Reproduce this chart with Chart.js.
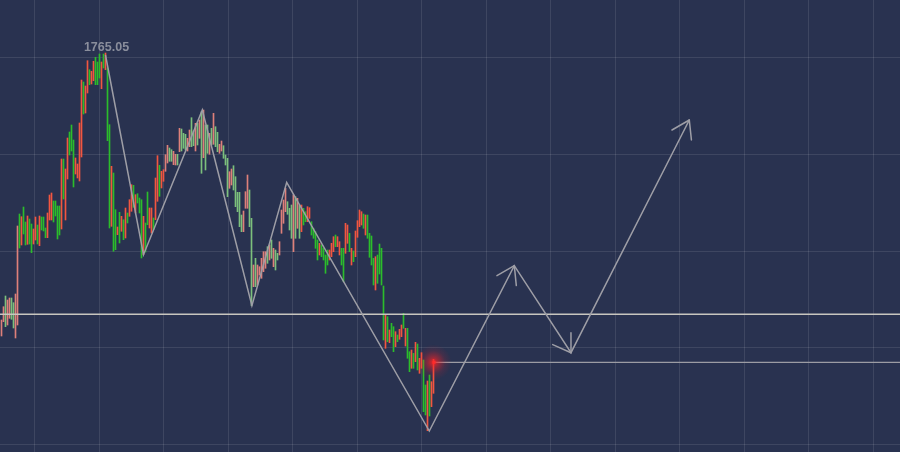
<!DOCTYPE html>
<html>
<head>
<meta charset="utf-8">
<title>XAU zigzag</title>
<script src="https://cdn.jsdelivr.net/npm/chart.js@4.4.1/dist/chart.umd.min.js"></script>
<style>
  html, body { margin: 0; padding: 0; background: #293250; }
  #wrap { width: 900px; height: 452px; }
</style>
</head>
<body>
<div id="wrap"><canvas id="chart" width="900" height="452"></canvas></div>
<script>
// ============ Data ============
const highs = [
  1738.35, 1739.68, 1740.75, 1740.35, 1740.55, 1740.55, 1740.08, 1740.95, 1747.75, 1748.95,
  1748.68, 1749.65, 1748.15, 1748.75, 1748.45, 1747.95, 1747.45, 1748.65, 1747.85, 1748.75,
  1748.65, 1748.65, 1747.55, 1749.05, 1750.85, 1751.05, 1750.25, 1750.25, 1749.75, 1749.75,
  1754.45, 1754.45, 1753.45, 1756.55, 1757.15, 1757.85, 1756.35, 1754.55, 1753.95, 1758.05,
  1762.35, 1762.15, 1761.75, 1764.28, 1763.38, 1763.22, 1764.22, 1764.62, 1764.15, 1764.95,
  1764.15, 1764.95, 1765.05, 1763.55, 1757.88, 1753.72, 1753.05, 1749.38, 1747.65, 1749.12,
  1748.72, 1748.38, 1749.55, 1749.05, 1750.38, 1751.88, 1751.82, 1750.88, 1750.98, 1750.55,
  1750.38, 1748.72, 1748.05, 1751.15, 1749.55, 1749.55, 1748.55, 1752.55, 1754.78, 1753.82,
  1753.22, 1753.38, 1754.88, 1755.82, 1755.55, 1755.38, 1755.22, 1754.92, 1754.92, 1757.52,
  1757.45, 1757.02, 1756.92, 1756.52, 1757.35, 1758.58, 1757.25, 1758.02, 1758.02, 1758.35,
  1759.18, 1759.35, 1757.85, 1757.85, 1757.02, 1757.52, 1759.02, 1757.68, 1757.12, 1755.92,
  1756.25, 1755.78, 1754.85, 1754.52, 1753.18, 1753.45, 1753.78, 1752.68, 1751.12, 1751.12,
  1748.85, 1749.25, 1751.18, 1752.85, 1751.35, 1748.52, 1743.85, 1744.52, 1743.85, 1743.68,
  1744.52, 1745.18, 1745.18, 1745.68, 1745.85, 1746.35, 1745.52, 1745.35, 1745.02, 1746.18,
  1749.35, 1750.35, 1751.52, 1750.18, 1749.52, 1749.85, 1750.85, 1750.68, 1750.52, 1749.85,
  1749.85, 1749.52, 1749.18, 1749.68, 1749.58, 1748.18, 1747.52, 1747.18, 1746.35, 1746.02,
  1745.85, 1745.52, 1744.85, 1745.35, 1745.35, 1746.02, 1746.68, 1746.85, 1746.68, 1746.18,
  1745.52, 1745.52, 1748.02, 1747.85, 1747.02, 1745.52, 1745.25, 1747.25, 1748.28, 1749.35,
  1749.18, 1748.95, 1748.85, 1748.85, 1747.02, 1746.75, 1744.52, 1744.68, 1744.85, 1745.95,
  1745.52, 1741.75, 1738.85, 1738.68, 1737.35, 1738.02, 1737.68, 1737.18, 1736.85, 1737.42,
  1737.85, 1739.02, 1737.52, 1737.52, 1735.18, 1735.35, 1735.02, 1736.12, 1735.95, 1734.52,
  1735.08, 1734.35, 1731.85, 1732.25, 1732.85, 1732.18, 1734.42
];
const lows = [
  1736.75, 1738.18, 1737.68, 1737.85, 1738.52, 1738.42, 1737.55, 1736.55, 1737.85, 1745.55,
  1745.85, 1746.95, 1745.85, 1745.92, 1745.95, 1745.08, 1745.95, 1746.35, 1745.95, 1745.78,
  1747.35, 1747.25, 1746.58, 1746.58, 1748.35, 1748.35, 1748.15, 1748.75, 1746.45, 1746.85,
  1747.45, 1750.45, 1748.35, 1752.45, 1754.85, 1755.25, 1751.65, 1752.95, 1752.55, 1752.25,
  1754.65, 1758.95, 1759.05, 1761.05, 1761.88, 1761.95, 1762.28, 1761.88, 1761.88, 1762.55,
  1761.48, 1763.55, 1763.38, 1756.28, 1747.55, 1747.72, 1745.22, 1745.38, 1746.88, 1746.05,
  1747.22, 1746.38, 1746.55, 1748.05, 1748.72, 1749.22, 1749.62, 1749.05, 1750.05, 1749.05,
  1744.55, 1744.88, 1745.15, 1747.88, 1747.55, 1747.05, 1747.38, 1748.38, 1750.22, 1750.72,
  1751.55, 1752.22, 1753.22, 1754.05, 1754.22, 1754.22, 1753.88, 1753.85, 1753.85, 1755.18,
  1755.25, 1755.52, 1755.35, 1755.25, 1755.68, 1755.68, 1755.78, 1755.25, 1755.85, 1756.52,
  1753.02, 1754.58, 1753.35, 1755.02, 1754.92, 1755.85, 1755.92, 1755.68, 1755.18, 1755.02,
  1755.25, 1754.52, 1753.85, 1750.68, 1751.52, 1751.85, 1751.35, 1749.68, 1749.18, 1747.68,
  1747.18, 1747.18, 1749.52, 1749.52, 1747.68, 1739.78, 1741.68, 1741.68, 1741.85, 1742.85,
  1742.52, 1743.18, 1743.52, 1744.02, 1744.35, 1744.52, 1743.68, 1743.35, 1744.35, 1744.85,
  1747.02, 1748.02, 1749.18, 1748.92, 1747.35, 1746.52, 1745.18, 1746.52, 1747.52, 1746.52,
  1747.18, 1747.85, 1748.18, 1748.18, 1748.52, 1746.85, 1746.52, 1745.52, 1744.35, 1744.85,
  1744.68, 1744.35, 1743.02, 1743.85, 1744.35, 1744.68, 1745.18, 1745.68, 1745.68, 1744.85,
  1743.85, 1742.18, 1745.02, 1746.02, 1745.18, 1743.85, 1744.18, 1744.68, 1746.62, 1747.68,
  1747.85, 1747.52, 1746.85, 1746.52, 1744.62, 1743.85, 1741.85, 1741.35, 1742.02, 1742.95,
  1741.85, 1736.35, 1735.52, 1736.18, 1736.08, 1736.68, 1735.18, 1735.68, 1736.18, 1736.42,
  1736.68, 1737.52, 1735.75, 1734.52, 1733.18, 1733.52, 1733.52, 1734.18, 1733.35, 1733.02,
  1733.52, 1729.18, 1728.85, 1727.28, 1728.75, 1729.68, 1731.02
];
// g = up bar, r = down bar
const barDirs = (
  'rrgrrggrrg' + 'rggrggrrgr' + 'gggrrrgggg' + 'rgrrgggrrr' + 'rgrrgrrggg' +
  'rgrggrggrg' + 'rgrgrrgrgg' + 'grggrrgrrg' + 'rrrrggrrgr' + 'gggrrggrgr' +
  'grggrgrggr' + 'rgggrrgggg' + 'grrrggrgrr' + 'rrrgrgrggr' + 'rrrgggrgrg' +
  'rggrrggggr' + 'ggggrrrgrr' + 'ggrrgrgrrr' + 'rgrggggrgg' + 'ggrgrggrgr' +
  'rgrggrgrgr' + 'rggrgrr'
).split('');
// bar index spans drawn in the paler tone
const paleSpans = [[0, 8], [82, 149]];

// zigzag swing points (bar index, price), last three are projections
const zigzagIdx = [52, 71, 100.4, 125.2, 142.6, 213.9, 256.4, 284.75, 343.9];
const zigzagVal = [1764.85, 1744.88, 1759.35, 1739.78, 1752.12, 1727.25, 1743.78, 1735.08, 1758.35];
const arrowAt = [6, 7, 8];

const supportLevel = 1738.92;
const lastClose = 1734.12;

const xRange = [-0.75, 449.25];
const yRange = [1725.15, 1770.35];
const xGrid = [16.6, 48.85, 81.1, 113.35, 145.6, 177.85, 210.1, 242.35, 274.6, 306.85, 339.1, 371.35, 403.6, 435.85];
const yGrid = [1764.61, 1754.93, 1745.25, 1735.57, 1725.89];

// ============ Styles ============
const COLORS = {
  up: '#2bbd2b',
  down: '#f25640',
  upPale: '#7cc07c',
  downPale: '#de807a',
  zig: '#9e9ea6',
  support: '#c8c6bf',
  close: '#9c9ca4',
  grid: 'rgba(255,255,255,0.1)',
  label: '#8a8e9c',
};
const ARROW_LEN = 20;
const ARROW_SPREAD = 33 * Math.PI / 180;

// ============ Plugins ============
const arrowPlugin = {
  id: 'zigArrows',
  afterDatasetsDraw(chart) {
    const pts = chart.getDatasetMeta(0).data;
    const c = chart.ctx;
    c.save();
    c.strokeStyle = COLORS.zig;
    c.lineWidth = 1.5;
    c.lineCap = 'round';
    arrowAt.forEach(k => {
      const a = pts[k - 1], b = pts[k];
      const ang = Math.atan2(a.y - b.y, a.x - b.x);
      [-1, 1].forEach(s => {
        const t = ang + s * ARROW_SPREAD;
        c.beginPath();
        c.moveTo(b.x, b.y);
        c.lineTo(b.x + ARROW_LEN * Math.cos(t), b.y + ARROW_LEN * Math.sin(t));
        c.stroke();
      });
    });
    c.restore();
  }
};

const glowPlugin = {
  id: 'lastGlow',
  afterDatasetsDraw(chart) {
    const c = chart.ctx;
    const x = chart.scales.x.getPixelForValue(highs.length - 1);
    const y = chart.scales.y.getPixelForValue(lastClose);
    const r = 18;
    const g = c.createRadialGradient(x, y, 0, x, y, r);
    g.addColorStop(0, 'rgba(255,35,35,0.9)');
    g.addColorStop(0.3, 'rgba(240,35,40,0.5)');
    g.addColorStop(0.65, 'rgba(225,35,45,0.15)');
    g.addColorStop(1, 'rgba(225,35,45,0)');
    c.save();
    c.fillStyle = g;
    c.fillRect(x - r, y - r, r * 2, r * 2);
    c.fillStyle = '#ff2b2b';
    c.fillRect(x - 1, y - 1.5, 3, 3);
    c.restore();
  }
};

const peakLabelPlugin = {
  id: 'peakLabel',
  afterDatasetsDraw(chart) {
    const peak = Math.max(...highs);
    const idx = highs.indexOf(peak);
    const c = chart.ctx;
    c.save();
    c.font = 'bold 12.5px "Liberation Sans", Arial, sans-serif';
    c.fillStyle = COLORS.label;
    c.textAlign = 'center';
    c.textBaseline = 'alphabetic';
    c.fillText(peak.toFixed(2), chart.scales.x.getPixelForValue(idx) + 1, chart.scales.y.getPixelForValue(peak) - 2.5);
    c.restore();
  }
};

// ============ Chart ============
const isPale = i => paleSpans.some(([a, b]) => i >= a && i <= b);
const bars = highs.map((h, i) => ({ x: i, y: [lows[i], h] }));
const barColors = barDirs.map((d, i) => {
  if (isPale(i)) return d === 'g' ? COLORS.upPale : COLORS.downPale;
  return d === 'g' ? COLORS.up : COLORS.down;
});
const zigzag = zigzagIdx.map((x, i) => ({ x, y: zigzagVal[i] }));

const lineBase = { type: 'line', pointRadius: 0, tension: 0, fill: false };

new Chart(document.getElementById('chart').getContext('2d'), {
  type: 'bar',
  data: {
    datasets: [
      { ...lineBase, data: zigzag, borderColor: COLORS.zig, borderWidth: 1.5, order: 0 },
      { ...lineBase, data: [{ x: xRange[0], y: supportLevel }, { x: xRange[1], y: supportLevel }],
        borderColor: COLORS.support, borderWidth: 1.5, order: 1 },
      { ...lineBase, data: [{ x: highs.length - 1, y: lastClose }, { x: xRange[1], y: lastClose }],
        borderColor: COLORS.close, borderWidth: 1.2, order: 1 },
      { type: 'bar', data: bars, backgroundColor: barColors, borderWidth: 0, barThickness: 1, order: 2 },
    ],
  },
  options: {
    responsive: false,
    animation: false,
    events: [],
    layout: { padding: 0 },
    plugins: { legend: { display: false }, tooltip: { enabled: false } },
    scales: {
      x: {
        type: 'linear', min: xRange[0], max: xRange[1], offset: false,
        afterBuildTicks: s => { s.ticks = xGrid.map(v => ({ value: v })); },
        ticks: { display: false },
        grid: { color: COLORS.grid, drawTicks: false, offset: false },
        border: { display: false },
      },
      y: {
        type: 'linear', min: yRange[0], max: yRange[1],
        afterBuildTicks: s => { s.ticks = yGrid.map(v => ({ value: v })); },
        ticks: { display: false },
        grid: { color: COLORS.grid, drawTicks: false },
        border: { display: false },
      },
    },
  },
  plugins: [arrowPlugin, glowPlugin, peakLabelPlugin],
});
</script>
</body>
</html>
